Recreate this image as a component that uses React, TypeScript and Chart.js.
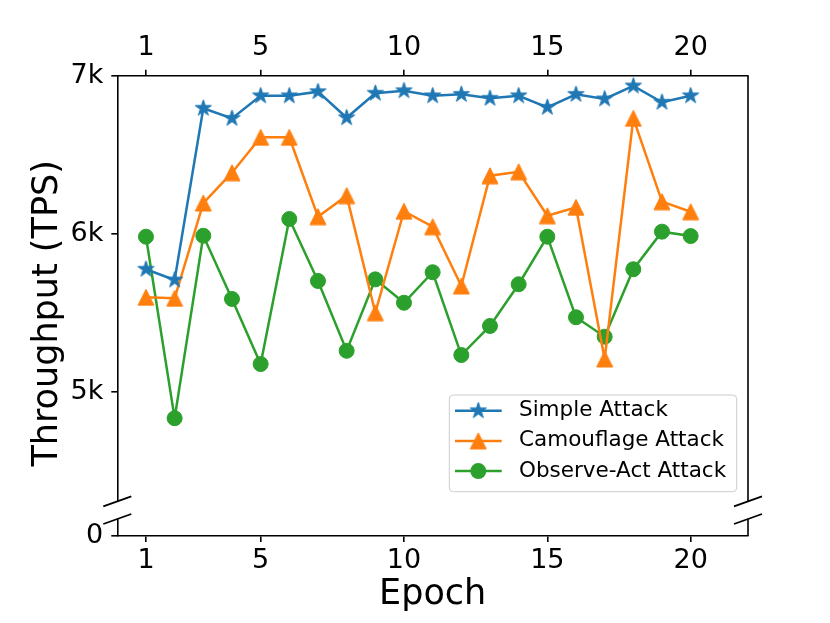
import React, { useEffect, useRef } from 'react';
import { Chart, registerables } from 'chart.js';

Chart.register(...registerables);

// ---------------- data ----------------
const epochs = [1, 2, 3, 4, 5, 6, 7, 8, 9, 10, 11, 12, 13, 14, 15, 16, 17, 18, 19, 20];
const simpleAttack = [5775, 5707, 6794, 6730, 6873, 6873, 6899, 6734, 6889, 6905, 6873, 6882, 6857, 6873, 6800, 6882, 6853, 6935, 6832, 6873];
const camouflageAttack = [5597, 5591, 6194, 6386, 6610, 6610, 6108, 6241, 5500, 6142, 6044, 5669, 6367, 6392, 6114, 6167, 5207, 6730, 6203, 6139];
const observeActAttack = [5981, 4832, 5987, 5587, 5175, 6093, 5701, 5259, 5711, 5563, 5756, 5232, 5416, 5680, 5981, 5471, 5348, 5775, 6013, 5985];
const seriesNames = ['Simple Attack', 'Camouflage Attack', 'Observe-Act Attack'];
const seriesColors = ['#1f77b4', '#ff7f0e', '#2ca02c'];
const xTickValues = [1, 5, 10, 15, 20];
const yTickValues = [5000, 6000, 7000];
const yTickLabels = ['5k', '6k', '7k'];
const yLowTickValues = [0];
const yLowTickLabels = ['0'];
const xTitle = 'Epoch';
const yTitle = 'Throughput (TPS)';

const FONT = "'DejaVu Sans', sans-serif";

function makeStar(color: string, R: number): HTMLCanvasElement {
  const size = Math.ceil(2 * R + 2);
  const c = document.createElement('canvas');
  c.width = size;
  c.height = size;
  const ctx = c.getContext('2d')!;
  const cx = size / 2;
  const cy = size / 2;
  const r = R * 0.381966;
  ctx.beginPath();
  for (let i = 0; i < 10; i++) {
    const rad = i % 2 === 0 ? R : r;
    const a = -Math.PI / 2 + (i * Math.PI) / 5;
    ctx.lineTo(cx + rad * Math.cos(a), cy + rad * Math.sin(a));
  }
  ctx.closePath();
  ctx.fillStyle = color;
  ctx.fill();
  ctx.strokeStyle = color;
  ctx.lineWidth = 1;
  ctx.lineJoin = 'miter';
  ctx.stroke();
  return c;
}

function makeTriangle(color: string, h: number): HTMLCanvasElement {
  const size = Math.ceil(2 * h + 2);
  const c = document.createElement('canvas');
  c.width = size;
  c.height = size;
  const ctx = c.getContext('2d')!;
  const cx = size / 2;
  const cy = size / 2;
  ctx.beginPath();
  ctx.moveTo(cx, cy - h);
  ctx.lineTo(cx - h, cy + h);
  ctx.lineTo(cx + h, cy + h);
  ctx.closePath();
  ctx.fillStyle = color;
  ctx.fill();
  ctx.strokeStyle = color;
  ctx.lineWidth = 1;
  ctx.stroke();
  return c;
}

const yTitlePlugin = {
  id: 'yTitlePlugin',
  afterDraw(chart: any) {
    const { ctx, chartArea } = chart;
    ctx.save();
    ctx.translate(chartArea.left - 60.5, (chartArea.top + chartArea.bottom) / 2 + 7.5);
    ctx.rotate(-Math.PI / 2);
    ctx.font = `35px ${FONT}`;
    ctx.fillStyle = '#000';
    ctx.textAlign = 'center';
    ctx.textBaseline = 'alphabetic';
    ctx.fillText(yTitle, 0, 0);
    ctx.restore();
  },
};

const brokenAxisPlugin = {
  id: 'brokenAxisPlugin',
  afterDraw(chart: any) {
    const { ctx, chartArea } = chart;
    const yTop = chart.scales.y;
    const gapTop = yTop.bottom - 1;
    const gapBottom = chartArea.bottom - 17;
    ctx.save();
    // cut the left spine in the gap
    ctx.fillStyle = '#fff';
    ctx.fillRect(chartArea.left - 3, gapTop, 6, gapBottom - gapTop);
    // right spine
    ctx.strokeStyle = '#000';
    ctx.lineWidth = 1.6;
    ctx.beginPath();
    ctx.moveTo(chartArea.right, chartArea.top);
    ctx.lineTo(chartArea.right, gapTop);
    ctx.moveTo(chartArea.right, gapBottom);
    ctx.lineTo(chartArea.right, chartArea.bottom);
    ctx.stroke();
    // break marks
    ctx.lineWidth = 1.8;
    ctx.beginPath();
    for (const x of [chartArea.left, chartArea.right]) {
      for (const yc of [gapTop, gapBottom]) {
        ctx.moveTo(x - 14, yc + 5);
        ctx.lineTo(x + 14, yc - 5);
      }
    }
    ctx.stroke();
    ctx.restore();
  },
};

const legendPlugin = {
  id: 'customLegend',
  afterDraw(chart: any) {
    const { ctx, chartArea } = chart;
    const yTop = chart.scales.y;
    const right = chartArea.right - 11.3;
    const bottom = yTop.bottom - 10.6;
    const w = 287.4;
    const h = 96.7;
    const left = right - w;
    const top = bottom - h;
    ctx.save();
    ctx.beginPath();
    ctx.roundRect(left, top, w, h, 4);
    ctx.fillStyle = 'rgba(255,255,255,0.8)';
    ctx.fill();
    ctx.strokeStyle = '#cccccc';
    ctx.lineWidth = 1;
    ctx.stroke();
    chart.data.datasets.forEach((ds: any, i: number) => {
      const y = top + 15.7 + i * 30.2;
      ctx.strokeStyle = ds.borderColor;
      ctx.lineWidth = ds.borderWidth;
      ctx.beginPath();
      ctx.moveTo(left + 5.7, y);
      ctx.lineTo(left + 52.4, y);
      ctx.stroke();
      const mx = left + 29;
      if (ds.pointStyle instanceof HTMLCanvasElement) {
        const img = ds.pointStyle as HTMLCanvasElement;
        ctx.drawImage(img, mx - img.width / 2, y - img.height / 2);
      } else {
        ctx.beginPath();
        ctx.arc(mx, y, ds.pointRadius + ds.pointBorderWidth / 2, 0, Math.PI * 2);
        ctx.fillStyle = ds.backgroundColor;
        ctx.fill();
      }
      ctx.fillStyle = '#000';
      ctx.font = `21.5px ${FONT}`;
      ctx.textAlign = 'left';
      ctx.textBaseline = 'middle';
      ctx.fillText(ds.label, left + 69.7, y);
    });
    ctx.restore();
  },
};

export default function App() {
  const canvasRef = useRef<HTMLCanvasElement | null>(null);

  useEffect(() => {
    if (!canvasRef.current) return;
    const toPoints = (vals: number[]) => epochs.map((e, i) => ({ x: e, y: vals[i] }));
    const tickFont = { family: FONT, size: 27 };
    const gridTicks = {
      display: true,
      drawOnChartArea: false,
      drawTicks: true,
      tickLength: 6,
      color: '#000',
      lineWidth: 1.6,
    };
    const border = { display: true, color: '#000', width: 1.6 };
    const xTicks = (pad: number) => ({
      font: tickFont,
      color: '#000',
      padding: pad,
      maxRotation: 0,
      autoSkip: false,
      callback: (v: any) => String(v),
    });
    const setXTicks = (s: any) => {
      s.ticks = xTickValues.map((v) => ({ value: v }));
    };

    const chart = new Chart(canvasRef.current, {
      type: 'line',
      data: {
        datasets: [
          {
            label: seriesNames[0],
            data: toPoints(simpleAttack),
            xAxisID: 'x',
            yAxisID: 'y',
            borderColor: seriesColors[0],
            backgroundColor: seriesColors[0],
            borderWidth: 2.5,
            pointStyle: makeStar(seriesColors[0], 8.5),
            pointRadius: 9,
            pointHoverRadius: 9,
            tension: 0,
          },
          {
            label: seriesNames[1],
            data: toPoints(camouflageAttack),
            xAxisID: 'x',
            yAxisID: 'y',
            borderColor: seriesColors[1],
            backgroundColor: seriesColors[1],
            borderWidth: 2.5,
            pointStyle: makeTriangle(seriesColors[1], 8),
            pointRadius: 9,
            pointHoverRadius: 9,
            tension: 0,
          },
          {
            label: seriesNames[2],
            data: toPoints(observeActAttack),
            xAxisID: 'x',
            yAxisID: 'y',
            borderColor: seriesColors[2],
            backgroundColor: seriesColors[2],
            borderWidth: 2.5,
            pointStyle: 'circle',
            pointRadius: 7.5,
            pointBorderWidth: 1,
            pointHoverRadius: 7.5,
            pointBorderColor: seriesColors[2],
            pointBackgroundColor: seriesColors[2],
            tension: 0,
          },
        ] as any,
      },
      options: {
        animation: false,
        responsive: false,
        events: [],
        layout: { padding: { left: 0, right: 82, top: 0, bottom: 0 } },
        plugins: {
          legend: { display: false },
          tooltip: { enabled: false },
        },
        scales: {
          x: {
            type: 'linear',
            position: 'bottom',
            min: 0,
            max: 22,
            afterBuildTicks: setXTicks,
            ticks: xTicks(2.5),
            grid: gridTicks,
            border,
            title: {
              display: true,
              text: xTitle,
              color: '#000',
              font: { family: FONT, size: 35 },
              padding: { top: 0, bottom: 6.8 },
            },
            afterFit: (s: any) => {
              s.height = 87;
            },
          },
          x2: {
            type: 'linear',
            position: 'top',
            min: 0,
            max: 22,
            afterBuildTicks: setXTicks,
            ticks: xTicks(5.5),
            grid: gridTicks,
            border,
            afterFit: (s: any) => {
              s.height = 75.7;
            },
          },
          yLow: {
            type: 'linear',
            position: 'left',
            stack: 'broken',
            stackWeight: 33.7,
            min: 0,
            max: 200,
            afterBuildTicks: (s: any) => {
              s.ticks = yLowTickValues.map((v) => ({ value: v }));
            },
            ticks: {
              font: tickFont,
              color: '#000',
              padding: 8,
              callback: (v: any) => yLowTickLabels[yLowTickValues.indexOf(v)] ?? '',
            },
            grid: gridTicks,
            border,
            afterFit: (s: any) => {
              s.width = 117.3;
            },
          },
          y: {
            type: 'linear',
            position: 'left',
            stack: 'broken',
            stackWeight: 426.6,
            min: 4300,
            max: 7000,
            afterBuildTicks: (s: any) => {
              s.ticks = yTickValues.map((v) => ({ value: v }));
            },
            ticks: {
              font: tickFont,
              color: '#000',
              padding: 8,
              callback: (v: any) => yTickLabels[yTickValues.indexOf(v)] ?? '',
            },
            grid: gridTicks,
            border,
            afterFit: (s: any) => {
              s.width = 117.3;
            },
          },
        } as any,
      },
      plugins: [yTitlePlugin, legendPlugin, brokenAxisPlugin],
    });
    return () => chart.destroy();
  }, []);

  return (
    <div style={{ position: 'absolute', left: 0, top: 0, width: 830, height: 623, background: '#fff' }}>
      <canvas ref={canvasRef} width={830} height={623} style={{ display: 'block' }} />
    </div>
  );
}
